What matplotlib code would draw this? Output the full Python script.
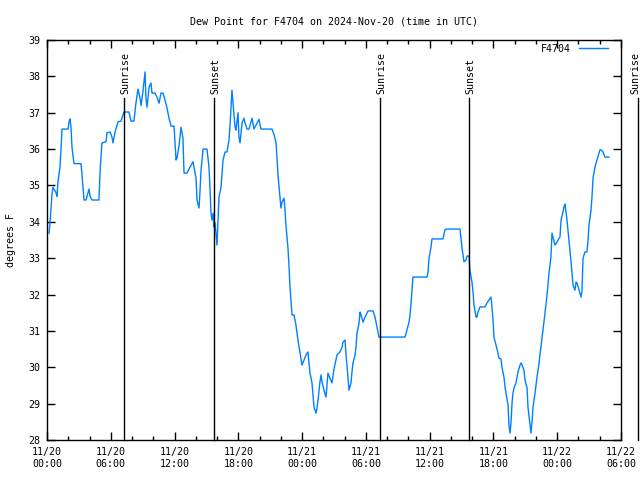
import matplotlib
matplotlib.use("Agg")
import matplotlib.pyplot as plt
import numpy as np

# hours since 2024-11-20 00:00 UTC, dew point in degrees F
hours = [
    0.19, 0.28, 0.38, 0.47, 0.56, 0.85, 0.94, 1.03, 1.22, 1.32, 1.41, 1.98, 2.07, 2.16,
    2.26, 2.35, 2.54, 3.20, 3.29, 3.48, 3.67, 3.86, 3.95, 4.05, 4.23, 4.89, 4.99, 5.17,
    5.55, 5.64, 5.93, 6.11, 6.21, 6.40, 6.68, 6.96, 7.24, 7.71, 7.90, 8.18, 8.37, 8.56,
    8.75, 8.85, 9.03, 9.22, 9.31, 9.41, 9.60, 9.78, 9.88, 10.16, 10.35, 10.54, 10.72,
    10.91, 11.10, 11.29, 11.48, 11.67, 11.95, 12.04, 12.14, 12.23, 12.42, 12.61, 12.79,
    12.89, 13.17, 13.45, 13.74, 13.83, 14.02, 14.11, 14.30, 14.39, 14.49, 14.68, 15.05,
    15.24, 15.33, 15.43, 15.52, 15.62, 15.71, 15.81, 15.99, 16.09, 16.18, 16.37, 16.56,
    16.75, 16.93, 17.12, 17.22, 17.40, 17.50, 17.69, 17.78, 17.97, 18.06, 18.16, 18.35,
    18.53, 18.63, 18.82, 19.00, 19.29, 19.47, 19.76, 19.94, 20.13, 21.17, 21.36, 21.55,
    21.64, 21.73, 21.92, 22.01, 22.11, 22.30, 22.39, 22.49, 22.67, 22.77, 22.86, 23.05,
    23.24, 23.42, 23.61, 23.80, 23.90, 23.99, 24.18, 24.37, 24.55, 24.65, 24.74, 24.93,
    25.02, 25.12, 25.31, 25.40, 25.50, 25.68, 25.78, 25.87, 26.06, 26.25, 26.34, 26.43,
    26.62, 26.81, 27.00, 27.28, 27.56, 27.75, 27.85, 28.04, 28.13, 28.22, 28.41, 28.60,
    28.69, 28.79, 28.98, 29.07, 29.16, 29.35, 29.45, 29.54, 29.73, 29.92, 30.20, 30.67,
    30.86, 31.05, 31.23, 33.68, 33.87, 34.06, 34.15, 34.25, 34.43, 35.75, 35.84, 35.94,
    36.13, 36.22, 37.25, 37.44, 37.54, 38.85, 38.95, 39.04, 39.23, 39.42, 39.51, 39.70,
    39.79, 39.98, 40.08, 40.17, 40.36, 40.45, 40.55, 40.74, 41.21, 41.39, 41.58, 41.77,
    41.86, 41.96, 42.05, 42.24, 42.43, 42.52, 42.71, 42.80, 42.99, 43.09, 43.18, 43.37,
    43.46, 43.56, 43.65, 43.75, 43.84, 43.93, 44.12, 44.22, 44.31, 44.50, 44.59, 44.69,
    44.87, 44.97, 45.16, 45.25, 45.44, 45.53, 45.63, 45.72, 45.91, 46.10, 46.29, 46.47,
    46.66, 46.85, 47.04, 47.23, 47.41, 47.51, 47.60, 47.79, 47.98, 48.17, 48.26, 48.36,
    48.54, 48.64, 48.73, 48.92, 49.01, 49.11, 49.30, 49.39, 49.49, 49.67, 49.77, 49.86,
    50.05, 50.24, 50.33, 50.43, 50.61, 50.80, 50.90, 50.99, 51.18, 51.27, 51.37, 51.55,
    51.74, 51.93, 52.02, 52.12, 52.31, 52.49, 52.87,
]
dew_point = [
    33.69, 33.97, 34.40, 34.75, 34.95, 34.80, 34.70, 35.10, 35.50, 36.00, 36.55, 36.55, 36.75, 36.83,
    36.60, 36.05, 35.60, 35.60, 35.30, 34.60, 34.60, 34.80, 34.90, 34.70, 34.60, 34.60, 35.37, 36.17,
    36.20, 36.45, 36.47, 36.33, 36.17, 36.47, 36.75, 36.77, 37.02, 37.02, 36.77, 36.77, 37.27, 37.65,
    37.40, 37.20, 37.60, 38.12, 37.40, 37.15, 37.70, 37.82, 37.54, 37.54, 37.43, 37.26, 37.54,
    37.54, 37.35, 37.13, 36.85, 36.63, 36.63, 36.17, 35.70, 35.75, 36.10, 36.60, 36.30,
    35.34, 35.34, 35.50, 35.65, 35.50, 35.20, 34.60, 34.38, 34.82, 35.42, 36.00, 36.00,
    35.50, 34.95, 34.24, 34.05, 34.24, 33.86, 33.97, 33.36, 34.05, 34.68, 34.95, 35.70,
    35.92, 35.92, 36.25, 36.66, 37.62, 37.26, 36.60, 36.52, 37.00, 36.33, 36.17, 36.72,
    36.85, 36.72, 36.55, 36.55, 36.85, 36.55, 36.72, 36.82, 36.55, 36.55, 36.40, 36.17,
    35.75, 35.29, 34.65, 34.38, 34.54, 34.65, 34.32, 33.86, 33.28, 32.76, 32.20, 31.44,
    31.44, 31.16, 30.75, 30.40, 30.20, 30.06, 30.20, 30.34, 30.42, 30.12, 29.84, 29.57,
    29.24, 28.90, 28.74, 28.88, 29.10, 29.60, 29.79, 29.60, 29.37, 29.18, 29.51, 29.84,
    29.70, 29.57, 29.95, 30.34, 30.42, 30.55, 30.69, 30.75, 30.34, 30.06, 29.37, 29.57,
    29.87, 30.12, 30.34, 30.55, 30.94, 31.20, 31.52, 31.44, 31.24, 31.38, 31.55, 31.55,
    31.38, 31.10, 30.83, 30.83, 31.03, 31.24, 31.44, 31.77, 32.48, 32.48, 32.60, 33.00,
    33.31, 33.53, 33.53, 33.78, 33.80, 33.80, 33.55, 33.28, 32.90, 32.95, 33.06, 33.06,
    32.67, 32.34, 32.07, 31.71, 31.38, 31.38, 31.52, 31.66, 31.66, 31.77, 31.85, 31.93,
    31.66, 31.30, 30.83, 30.61, 30.39, 30.25, 30.23, 30.00, 29.73, 29.46, 29.29, 28.96,
    28.41, 28.19, 28.47, 29.02, 29.29, 29.43, 29.57, 29.73, 29.87, 30.06, 30.12, 30.06,
    29.92, 29.65, 29.43, 28.90, 28.41, 28.19, 28.50, 28.90, 29.29, 29.73, 30.12, 30.56,
    31.02, 31.49, 31.99, 32.59, 33.03, 33.69, 33.58, 33.36, 33.44, 33.55, 33.58, 34.05,
    34.27, 34.41, 34.49, 34.05, 33.78, 33.50, 32.90, 32.59, 32.26, 32.12, 32.34, 32.32,
    32.12, 31.93, 32.12, 33.00, 33.17, 33.17, 33.50, 33.91, 34.32, 34.68, 35.20, 35.51,
    35.70, 35.89, 35.98, 35.98, 35.92, 35.78, 35.78,
]

sun_events = ["Sunrise", "Sunset", "Sunrise", "Sunset", "Sunrise"]
sun_hours = [7.24, 15.71, 31.33, 39.70, 55.60]

x_ticks = [0, 6, 12, 18, 24, 30, 36, 42, 48, 54]
x_labels = ["11/20\n00:00", "11/20\n06:00", "11/20\n12:00", "11/20\n18:00", "11/21\n00:00",
            "11/21\n06:00", "11/21\n12:00", "11/21\n18:00", "11/22\n00:00", "11/22\n06:00"]
y_ticks = list(range(28, 40))

plt.rcParams['font.family'] = ['DejaVu Sans Mono']
FS = 7.2

fig = plt.figure(figsize=(6.4, 4.8), dpi=100)
ax = fig.add_axes([47 / 640, 40 / 480, 574 / 640, 400 / 480])

ax.plot(hours, dew_point, color='#0080ff', lw=1.0, label='F4704')

for name, h in zip(sun_events, sun_hours):
    ax.plot([h, h], [28, 37.4], color='black', lw=1.0, clip_on=False)
    # keep the last label (outside the plot) inside the image
    tx = min(h + 0.12, 55.35)
    ax.text(tx, 37.52, name, rotation=90, ha='center', va='bottom',
            fontsize=FS, clip_on=False)

ax.set_xlim(0, 54)
ax.set_ylim(28, 39)
ax.set_xticks(x_ticks)
ax.set_xticklabels(x_labels, fontsize=FS)
ax.set_xticks(np.arange(0, 55, 2), minor=True)
ax.set_yticks(y_ticks)
ax.set_yticklabels([str(v) for v in y_ticks], fontsize=FS)

ax.tick_params(axis='both', which='major', direction='in', length=6, width=1,
               top=True, right=True, pad=5)
ax.tick_params(axis='both', which='minor', direction='in', length=3, width=1,
               top=True, right=True)
ax.tick_params(axis='y', which='minor', left=False, right=False)
for s in ax.spines.values():
    s.set_linewidth(1.0)

ax.set_title("Dew Point for F4704 on 2024-Nov-20 (time in UTC)", fontsize=FS, pad=11)
ax.set_ylabel("degrees F", fontsize=FS, labelpad=9)

ax.legend(loc='upper right', bbox_to_anchor=(0.984, 1.0), frameon=False,
          markerfirst=False, fontsize=FS, handlelength=2.9, handletextpad=0.8,
          borderaxespad=0.0)

fig.savefig("out.png", dpi=100)
